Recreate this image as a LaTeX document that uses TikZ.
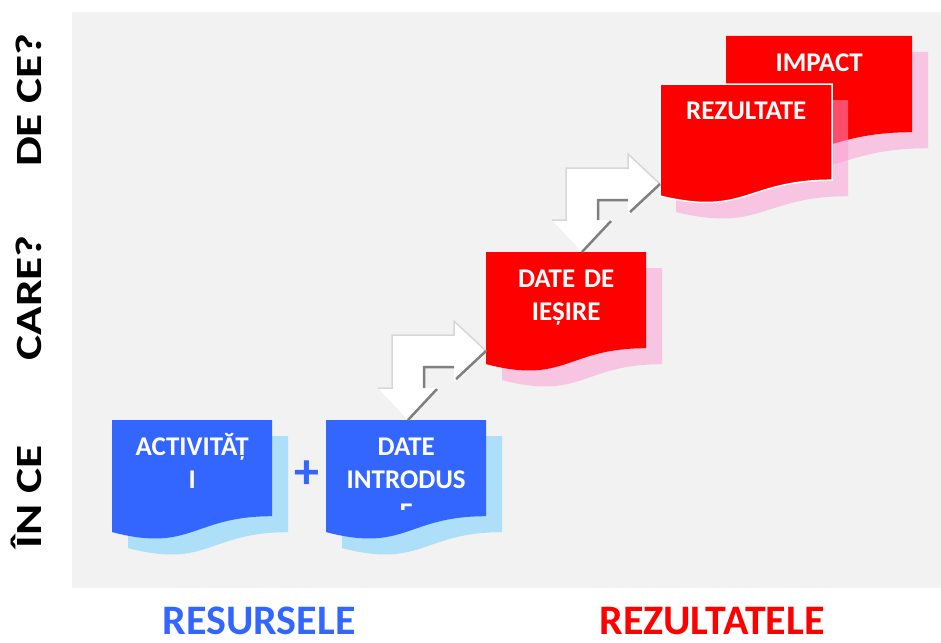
\documentclass[tikz,border=0pt]{standalone}
\usepackage{fontspec}
\setmainfont{Carlito}
\usetikzlibrary{calc}
\definecolor{bgpanel}{RGB}{242,242,242}
\definecolor{boxblue}{RGB}{51,102,255}
\definecolor{boxred}{RGB}{255,0,0}
\definecolor{shblue}{RGB}{173,223,248}
\definecolor{shpink}{RGB}{252,154,212}
\definecolor{edgelight}{RGB}{215,215,215}
\definecolor{edgedark}{RGB}{128,128,128}
% document-shaped path: #1 x, #2 y, #3 width, #4 style
\newcommand\docpath[4]{%
  \path[#4] (#1,#2) -- ({#1+#3},#2) -- ({#1+#3},{#2+96.2})
    .. controls ({#1+#3/2},{#2+96.2}) and ({#1+#3/2},{#2+132.9}) .. (#1,{#2+112.1}) -- cycle;}
% bent double block arrow: #1 corner coordinate, #2 right target node, #3 down target node
\newcommand\bentarrow[3]{%
  \path[arrowbody] let \p1=(#2.west), \p2=(#3.north), \p3=(#1) in
    (\x3,\y2+32pt) -- (\x3,\y3) -- (\x1-32pt,\y3) -- (\x1-32pt,\y3+14pt) -- (\x1,\y3-16pt)
    -- (\x1-32pt,\y3-46pt) -- (\x1-32pt,\y3-32pt) -- (\x3+32pt,\y3-32pt) -- (\x3+32pt,\y2+32pt)
    -- (\x3+46pt,\y2+32pt) -- (\x3+16pt,\y2) -- (\x3-14pt,\y2+32pt) -- cycle;
  \draw[edgeout] let \p1=(#2.west), \p2=(#3.north), \p3=(#1) in
    (\x3-14pt,\y2+32pt) -- (\x3,\y2+32pt) -- (\x3,\y3) -- (\x1-32pt,\y3) -- (\x1-32pt,\y3+14pt) -- (\x1,\y3-16pt);
  \draw[edgein] let \p1=(#2.west), \p2=(#3.north), \p3=(#1) in
    (\x1,\y3-16pt) -- (\x1-30pt,\y3-44pt)
    (\x1-32pt,\y3-32pt) -- (\x3+32pt,\y3-32pt) -- (\x3+32pt,\y2+32pt)
    (\x3+45pt,\y2+31pt) -- (\x3+16pt,\y2);}
\begin{document}
\begin{tikzpicture}[x=1pt,y=-1pt,
  boxtext/.style={inner sep=0pt, anchor=north, align=center, text=white,
    font=\fontsize{27}{33}\selectfont\bfseries},
  frame/.style={inner sep=0pt, anchor=north west, minimum height=112pt},
  sideq/.style={rotate=90, anchor=base, inner sep=0pt,
    font=\fontsize{37}{40}\selectfont\bfseries},
  bottomlbl/.style={anchor=base, inner sep=0pt, text depth=0pt,
    font=\fontsize{42}{46}\selectfont\bfseries},
  blueshadow/.style={fill=shblue},
  pinkshadow/.style={fill=shpink, fill opacity=0.5},
  bluedoc/.style={fill=boxblue},
  reddoc/.style={fill=boxred},
  arrowbody/.style={fill=white},
  edgeout/.style={draw=edgelight, line width=1.5pt, line join=miter},
  edgein/.style={draw=edgedark, line width=2.5pt},
  plusstyle/.style={inner sep=0pt, text=boxblue, font=\fontsize{50}{50}\selectfont\bfseries}]
\useasboundingbox (0,0) rectangle (941,642);
\fill[white] (0,0) rectangle (941,642);
\fill[bgpanel] (72,12) rectangle (941,588);

% side questions
\node[sideq] (q1) at (41,100) {\scalebox{1.28}[1]{DE CE?}};
\node[sideq] (q2) at (41,298) {\scalebox{1.28}[1]{CARE?}};
\node[sideq] (q3) at (41,497) {\scalebox{1.28}[1]{ÎN CE}};

% bottom labels
\node[bottomlbl, text=boxblue] (res) at (259,634) {RESURSELE};
\node[bottomlbl, text=boxred] (rezl) at (712,634) {REZULTATELE};

% ACTIVITATI
\docpath{128}{436}{160}{blueshadow}
\docpath{112}{420}{160}{bluedoc}
\node[frame, minimum width=160pt] (act) at (112,420) {};
\node[boxtext, text width=156pt] (act-t) at ($(act.north)+(0,11)$) {\rule{0pt}{24pt}ACTIVITĂȚ\\I};

% DATE INTRODUSE
\docpath{342}{436}{160}{blueshadow}
\docpath{326}{420}{160}{bluedoc}
\node[frame, minimum width=160pt] (intro) at (326,420) {};
\begin{scope}
  \clip (326,420) rectangle (486,509);
  \node[boxtext, text width=156pt] (intro-t) at ($(intro.north)+(0,11)$) {\rule{0pt}{24pt}DATE\\INTRODUS\\E};
\end{scope}

% plus
\node[plusstyle] (plus) at (307,475) {+};

% DATE DE IESIRE
\docpath{502}{268}{160}{pinkshadow}
\docpath{486}{252}{160}{reddoc}
\node[frame, minimum width=160pt] (iesire) at (486,252) {};
\node[boxtext, text width=156pt] (iesire-t) at ($(iesire.north)+(0,11)$) {\rule{0pt}{24pt}DATE DE\\IEȘIRE};

% IMPACT
\docpath{742}{52}{186}{pinkshadow}
\docpath{726}{36}{186}{reddoc}
\node[frame, minimum width=186pt] (impact) at (726,36) {};
\node[boxtext, text width=180pt] (impact-t) at ($(impact.north)+(0,11)$) {\rule{0pt}{24pt}IMPACT};

% REZULTATE
\docpath{676}{100}{172}{pinkshadow}
\docpath{660}{84}{172}{reddoc, draw=white, line width=1.5pt}
\node[frame, minimum width=172pt] (rez) at (660,84) {};
\node[boxtext, text width=166pt] (rez-t) at ($(rez.north)+(0,11)$) {\rule{0pt}{24pt}REZULTATE};

% bent block arrows
\coordinate (c1) at (392,335);
\coordinate (c2) at (566,168);
\bentarrow{c1}{iesire}{intro}
\bentarrow{c2}{rez}{iesire}
\end{tikzpicture}
\end{document}
